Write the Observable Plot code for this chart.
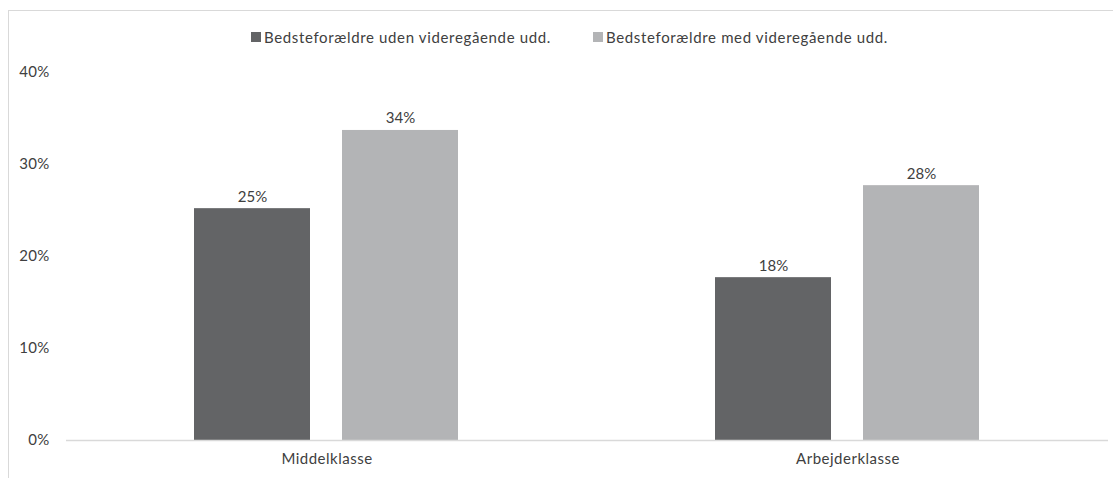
<!DOCTYPE html>
<html>
<head>
<meta charset="utf-8">
<script src="https://cdn.jsdelivr.net/npm/d3@7"></script>
<script src="https://cdn.jsdelivr.net/npm/@observablehq/plot@0.6"></script>
<style>
  html, body { margin: 0; padding: 0; background: #fff; }
  body { width: 1113px; height: 478px; overflow: hidden; position: relative; font-family: Lato, "Open Sans", sans-serif; }
  #frame { position: absolute; left: 8px; top: 10px; width: 1110px; height: 480px; border-left: 1px solid #d9d9d9; border-top: 1px solid #d9d9d9; }
  #legend { position: absolute; left: 48px; width: 1043px; top: 28px; display: flex; justify-content: center; gap: 42px; font-size: 15px; letter-spacing: 0.65px; color: #404040; }
  #legend .item { display: flex; align-items: center; }
  #legend .sw { width: 10px; height: 10px; margin-right: 3px; }
  #chart { position: absolute; left: 0; top: 50px; }
  #chart svg g[aria-label="fx-axis tick label"] text { letter-spacing: 0.5px; }
  #chart svg g[aria-label="y-axis tick label"] text { letter-spacing: 0.3px; }
</style>
</head>
<body>
<div id="frame"></div>
<div id="legend"></div>
<div id="chart"></div>
<script>
const categories = ["Middelklasse", "Arbejderklasse"];
const seriesNames = ["Bedsteforældre uden videregående udd.", "Bedsteforældre med videregående udd."];
const seriesColors = ["#636466", "#b3b4b6"];
const udenValues = [25.2, 17.7];
const medValues = [33.7, 27.7];
const yTicks = [0, 10, 20, 30, 40];

const data = [];
categories.forEach((c, i) => {
  data.push({category: c, series: seriesNames[0], value: udenValues[i]});
  data.push({category: c, series: seriesNames[1], value: medValues[i]});
});

const legend = document.getElementById("legend");
seriesNames.forEach((s, i) => {
  const it = document.createElement("div");
  it.className = "item";
  const sw = document.createElement("div");
  sw.className = "sw";
  sw.style.background = seriesColors[i];
  const t = document.createElement("span");
  t.textContent = s;
  it.appendChild(sw); it.appendChild(t);
  legend.appendChild(it);
});

const chart = Plot.plot({
  width: 1113,
  height: 428,
  marginLeft: 65,
  marginRight: 5,
  marginTop: 22,
  marginBottom: 38,
  style: {fontFamily: "Lato, 'Open Sans', sans-serif", fontSize: "15px", color: "#404040", background: "transparent"},
  fx: {domain: categories, padding: 0, label: null, axis: "bottom", tickSize: 0, tickPadding: 13},
  x: {domain: seriesNames, paddingInner: 0.215, paddingOuter: 0.856, axis: null},
  y: {domain: [0, 40], ticks: yTicks, tickFormat: d => d + "%", tickSize: 0, tickPadding: 17, label: null},
  color: {domain: seriesNames, range: seriesColors},
  marks: [
    Plot.barY(data, {fx: "category", x: "series", y: "value", fill: "series"}),
    Plot.text(data, {fx: "category", x: "series", y: "value", text: d => Math.round(d.value) + "%", lineAnchor: "bottom", dy: -7, fill: "#404040", fontSize: 15, style: {letterSpacing: "0.3px"}}),
    Plot.ruleY([0], {stroke: "#d9d9d9", strokeWidth: 1.5})
  ]
});
document.getElementById("chart").appendChild(chart);
</script>
</body>
</html>
